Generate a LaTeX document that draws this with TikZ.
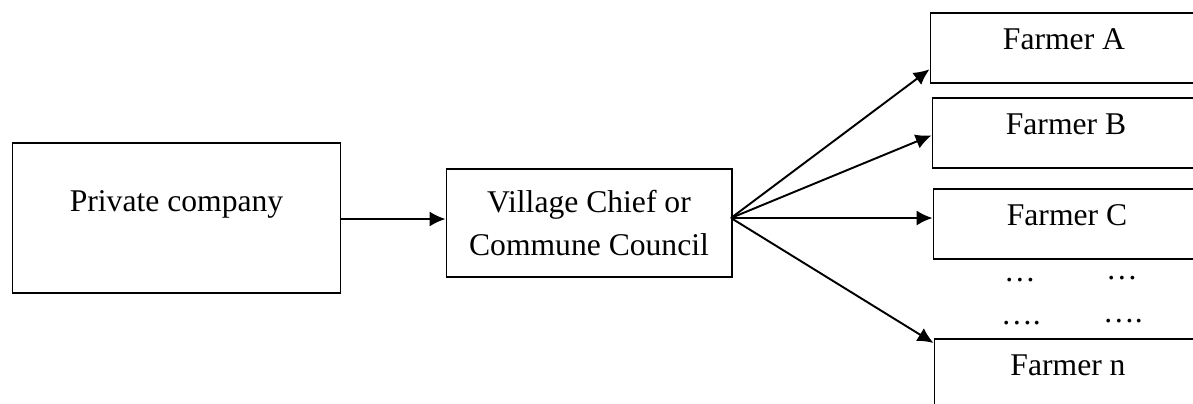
\documentclass[tikz,border=0pt]{standalone}
\usepackage{fontspec}
\setmainfont{Liberation Serif}
\usetikzlibrary{arrows.meta}
\begin{document}
\begin{tikzpicture}[x=.02cm,y=-.02cm,line width=1.1pt,>={Latex[length=9pt,width=8.5pt]},
  box/.style={draw,line width=.6pt,inner sep=0pt,align=center,font=\fontsize{18}{24}\selectfont},
  farmer/.style={box,minimum width=5.36cm,minimum height=1.4cm,text depth=.34cm},
  dots/.style={anchor=base,inner sep=0pt,font=\fontsize{18}{24}\selectfont}]
\useasboundingbox (0,0) rectangle (1193,403);
\clip (0,0) rectangle (1193,403);
% left part
\node[box,minimum width=6.58cm,minimum height=3cm,text depth=.66cm] (company) at (176.5,218) {Private company};
\node[box,minimum width=5.72cm,minimum height=2.16cm] (village) at (589,223) {Village Chief or\\Commune Council};
% farmers
\node[farmer] (farmA) at (1064,48) {Farmer A};
\node[farmer] (farmB) at (1066,133) {Farmer B};
\node[farmer] (farmC) at (1067,224) {Farmer C};
\node[farmer] (farmN) at (1068,374) {Farmer n};
\node[dots] (dotsA) at (1020,281) {\dots};
\node[dots] (dotsB) at (1122,279) {\dots};
\node[dots] (dotsC) at (1021,324) {\dots.};
\node[dots] (dotsD) at (1123,322) {\dots.};
% arrows
\coordinate (fan) at (731,218);
\draw[->] (company.east |- 0,219) -- (village.west |- 0,219);
\draw[->] (fan) -- (farmA.189);
\draw[->] (fan) -- (farmB.181);
\draw[->] (fan) -- (farmC.west |- fan);
\draw[->] (fan) -- (farmN.167);
\end{tikzpicture}
\end{document}
